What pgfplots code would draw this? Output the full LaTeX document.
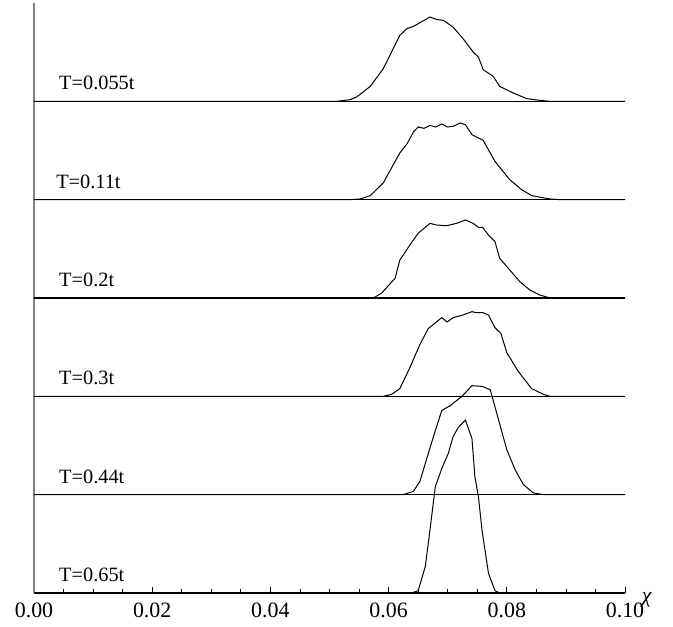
\documentclass[border=0pt]{standalone}
\usepackage{pgfplots}
\usepackage{pgfplotstable}
\pgfplotsset{compat=1.18}
\usepackage{fontspec}
\setmainfont{Liberation Serif}
\tikzset{tlabel/.style={anchor=west, font=\fontsize{10.2}{11}\selectfont, inner sep=0pt}}

\pgfplotstableread{
x h
0 0
0.0512 0
0.0535 0.017
0.0546 0.044
0.0569 0.152
0.0591 0.332
0.0619 0.671
0.0631 0.739
0.0642 0.762
0.0670 0.857
0.0681 0.833
0.0693 0.823
0.0709 0.755
0.0726 0.637
0.0743 0.501
0.0752 0.450
0.0760 0.322
0.0777 0.254
0.0788 0.152
0.0811 0.084
0.0834 0.027
0.0856 0.010
0.0873 0
0.1 0
}\curveA

\pgfplotstableread{
x h
0 0
0.0535 0
0.0552 0.007
0.0569 0.041
0.0591 0.170
0.0611 0.389
0.0619 0.475
0.0631 0.566
0.0642 0.688
0.0650 0.739
0.0660 0.725
0.0670 0.755
0.0680 0.739
0.0690 0.770
0.0699 0.739
0.0709 0.745
0.0721 0.780
0.0730 0.762
0.0741 0.661
0.0760 0.603
0.0780 0.389
0.0805 0.203
0.0825 0.102
0.0842 0.041
0.0873 0.007
0.0890 0
0.1 0
}\curveB

\pgfplotstableread{
x h
0 0
0.0574 0
0.0588 0.048
0.0611 0.201
0.0619 0.386
0.0636 0.539
0.0650 0.658
0.0670 0.759
0.0681 0.742
0.0698 0.735
0.0715 0.759
0.0730 0.793
0.0743 0.759
0.0752 0.719
0.0759 0.719
0.0769 0.640
0.0780 0.573
0.0788 0.403
0.0805 0.285
0.0822 0.166
0.0839 0.081
0.0856 0.030
0.0873 0
0.1 0
}\curveC

\pgfplotstableread{
x h
0 0
0.0591 0
0.0605 0.020
0.0619 0.078
0.0636 0.292
0.0653 0.528
0.0667 0.688
0.0690 0.800
0.0699 0.755
0.0709 0.800
0.0724 0.823
0.0741 0.861
0.0749 0.850
0.0760 0.850
0.0769 0.827
0.0780 0.698
0.0790 0.640
0.0800 0.444
0.0819 0.257
0.0842 0.078
0.0862 0.020
0.0873 0
0.1 0
}\curveD

\pgfplotstableread{
x h
0 0
0.0625 0
0.0642 0.034
0.0653 0.135
0.0664 0.356
0.0676 0.593
0.0690 0.857
0.0704 0.904
0.0724 0.999
0.0741 1.108
0.0758 1.101
0.0772 1.067
0.0786 0.762
0.0800 0.457
0.0814 0.254
0.0828 0.102
0.0845 0.017
0.0862 0
0.1 0
}\curveE

\pgfplotstableread{
x h
0 0
0.0639 0
0.0650 0.023
0.0662 0.267
0.0670 0.640
0.0679 1.080
0.0690 1.267
0.0701 1.419
0.0709 1.589
0.0718 1.684
0.0730 1.758
0.0741 1.572
0.0746 1.182
0.0752 0.979
0.0758 0.640
0.0769 0.200
0.0780 0.023
0.0788 0
0.1 0
}\curveF

\begin{document}
\begin{tikzpicture}
\begin{axis}[
  name=ax,
  scale only axis,
  width=295.5bp, height=295bp,
  xmin=0, xmax=0.1, ymin=0, ymax=6,
  clip=false,
  axis x line=bottom, axis y line=left,
  axis line style={-},
  x axis line style={black, line width=0.7bp},
  y axis line style={gray, line width=0.8bp},
  ytick=\empty,
  xtick={0,0.02,0.04,0.06,0.08,0.1},
  minor x tick num=3,
  tick align=inside,
  major tick length=3bp, minor tick length=2bp,
  tick style={black, line width=0.4bp},
  xticklabel style={/pgf/number format/.cd, fixed, fixed zerofill, precision=2, assume math mode=true},
  xticklabel shift=1.5bp,
  tick label style={font=\fontsize{11}{12}\selectfont},
  curve/.style={black, solid, line width=0.5bp, mark=none},
  base/.style={black, solid, line width=0.75bp, mark=none},
]
\addplot[base] coordinates {(0,1) (0.1,1)};
\addplot[base] coordinates {(0,2) (0.1,2)};
\addplot[base] coordinates {(0,3) (0.1,3)};
\addplot[base] coordinates {(0,4) (0.1,4)};
\addplot[base] coordinates {(0,5) (0.1,5)};
\addplot[curve] table[x=x, y expr=\thisrow{h}+5] {\curveA};
\addplot[curve] table[x=x, y expr=\thisrow{h}+4] {\curveB};
\addplot[curve] table[x=x, y expr=\thisrow{h}+3] {\curveC};
\addplot[curve] table[x=x, y expr=\thisrow{h}+2] {\curveD};
\addplot[curve] table[x=x, y expr=\thisrow{h}+1] {\curveE};
\addplot[curve] table[x=x, y expr=\thisrow{h}+0] {\curveF};
\node[tlabel] at (axis cs:0.0042,5.185) {T=0.055t};
\node[tlabel] at (axis cs:0.0037,4.185) {T=0.11t};
\node[tlabel] at (axis cs:0.0042,3.185) {T=0.2t};
\node[tlabel] at (axis cs:0.0042,2.185) {T=0.3t};
\node[tlabel] at (axis cs:0.0042,1.185) {T=0.44t};
\node[tlabel] at (axis cs:0.0042,0.185) {T=0.65t};
\node[font=\fontsize{11}{12}\selectfont, inner sep=0pt] at (rel axis cs:1,0) [xshift=11bp, yshift=-3.5bp] {\textit{χ}};
\end{axis}
\path (ax.south west) ++(-17bp,-17bp);
\path (ax.north east) ++(24bp,1.5bp);
\end{tikzpicture}
\end{document}
